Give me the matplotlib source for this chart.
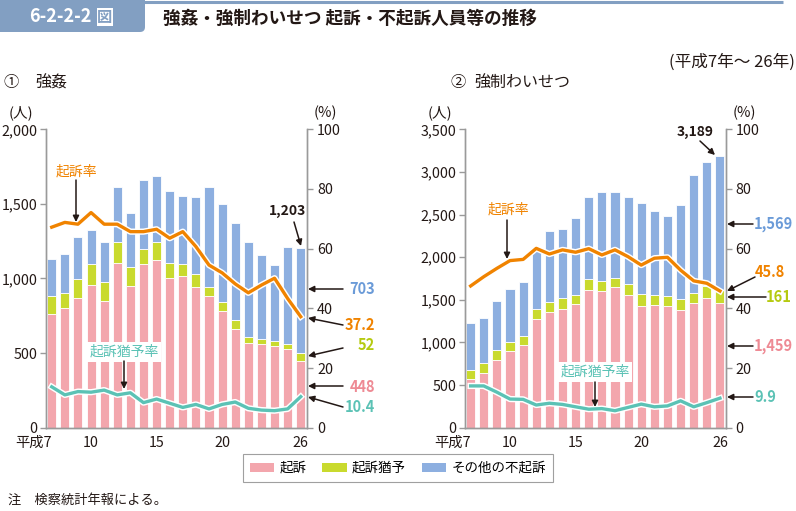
import numpy as np
import matplotlib.pyplot as plt
import matplotlib.patheffects as pe
import matplotlib.transforms as mtransforms
from matplotlib.patches import FancyBboxPatch, Patch
from matplotlib.ticker import FuncFormatter

plt.rcParams['font.family'] = ['Noto Sans CJK JP', 'DejaVu Sans']

W, H = 796, 511

# data (平成7年～26年)
years = list(range(7, 27))
xtick_pos = [0, 3, 8, 13, 19]
xtick_labels = ['平成7', '10', '15', '20', '26']

# ① 強姦
rape_kiso = [760, 800, 872, 957, 851, 1106, 948, 1095, 1126, 1005, 1019, 945, 883, 784, 659, 566, 559, 548, 525, 448]
rape_yuyo = [123, 105, 127, 138, 125, 141, 131, 101, 121, 97, 76, 83, 58, 61, 63, 40, 33, 35, 36, 52]
rape_other = [247, 257, 281, 232, 269, 368, 362, 462, 442, 487, 456, 518, 672, 656, 648, 641, 568, 507, 652, 703]
rape_kiso_rate = [67.2, 68.8, 68.2, 72.1, 68.2, 68.2, 65.7, 65.7, 66.5, 63.5, 65.7, 60.7, 54.5, 51.9, 48.2, 45.2, 47.8, 50.1, 43.3, 37.2]
rape_yuyo_rate = [13.7, 11.0, 12.1, 11.9, 12.6, 11.0, 11.7, 8.4, 9.6, 8.2, 6.8, 7.8, 6.3, 7.8, 8.6, 6.5, 5.9, 5.7, 6.3, 10.4]

# ② 強制わいせつ
ind_kiso = [575, 645, 794, 903, 966, 1279, 1357, 1389, 1447, 1615, 1607, 1647, 1557, 1431, 1439, 1427, 1380, 1459, 1518, 1459]
ind_yuyo = [102, 110, 114, 102, 110, 110, 121, 129, 110, 126, 114, 112, 125, 134, 118, 118, 130, 117, 144, 161]
ind_other = [547, 528, 578, 618, 637, 695, 833, 812, 899, 961, 1047, 1009, 1028, 1067, 985, 942, 1102, 1388, 1458, 1569]
ind_kiso_rate = [47.5, 50.6, 53.4, 56.0, 56.4, 60.1, 58.2, 59.6, 58.8, 60.0, 57.9, 59.6, 57.3, 54.5, 56.8, 57.1, 52.8, 49.2, 48.4, 45.8]
ind_yuyo_rate = [14.0, 14.0, 11.9, 9.6, 9.5, 7.6, 8.2, 7.8, 7.0, 6.2, 6.4, 5.7, 6.8, 7.9, 7.0, 7.3, 9.0, 7.0, 8.4, 9.9]

# colours
PINK, GREEN, BLUE = '#F3A6AD', '#C9DA2E', '#8DAFE0'
ORANGE, TEAL = '#F08300', '#5BC2B5'
PINK_T, GREEN_T, BLUE_T = '#EE8A94', '#B5CA10', '#6B9BD8'
TAB = '#829FC2'
SPINE = '#9a9a9a'
INK = '#231815'
TICK_FS = 10.3

fig = plt.figure(figsize=(W / 100, H / 100), dpi=100)


def px_axes(x0, y0, x1, y1):
    return fig.add_axes([x0 / W, 1 - y1 / H, (x1 - x0) / W, (y1 - y0) / H])


def panel(ax, kiso, yuyo, other, krate, yrate, ymax, xlim):
    x = np.arange(len(years))
    kiso = np.array(kiso)
    yuyo = np.array(yuyo)
    other = np.array(other)
    bw = 0.69
    ax.bar(x, kiso, width=bw, color=PINK, edgecolor='white', linewidth=0.6)
    ax.bar(x, yuyo, bottom=kiso, width=bw, color=GREEN, edgecolor='white', linewidth=0.6)
    ax.bar(x, other, bottom=kiso + yuyo, width=bw, color=BLUE, edgecolor='white', linewidth=0.6)
    ax.set_ylim(0, ymax)
    ax.set_xlim(*xlim)
    ax.set_yticks(np.arange(0, ymax + 1, 500))
    ax.yaxis.set_major_formatter(FuncFormatter(lambda v, p: f'{int(v):,}'))
    ax.set_xticks(xtick_pos)
    ax.set_xticklabels(xtick_labels)
    lab0 = ax.get_xticklabels()[0]
    lab0.set_ha('right')
    lab0.set_transform(lab0.get_transform() + mtransforms.ScaledTranslation(3 / 100, 0, fig.dpi_scale_trans))
    ax.tick_params(axis='y', length=4, width=1, color=SPINE, pad=2, labelsize=TICK_FS, labelcolor=INK)
    ax.tick_params(axis='x', length=0, pad=6, labelsize=TICK_FS, labelcolor=INK)
    ax.patch.set_visible(False)

    ax2 = ax.twinx()
    ax2.set_ylim(0, 100)
    ax2.set_yticks(range(0, 101, 20))
    ax2.tick_params(axis='y', length=4, width=1, color=SPINE, pad=3, labelsize=TICK_FS, labelcolor=INK)
    stroke = [pe.Stroke(linewidth=4.5, foreground='white'), pe.Normal()]
    ax2.plot(x, krate, color=ORANGE, lw=2.4, path_effects=stroke, solid_joinstyle='round')
    ax2.plot(x, yrate, color=TEAL, lw=2.4, path_effects=stroke, solid_joinstyle='round')
    for a in (ax, ax2):
        a.spines['top'].set_visible(False)
        for s in ('left', 'right', 'bottom'):
            a.spines[s].set_color(SPINE)
            a.spines[s].set_linewidth(1)


axL = px_axes(45.7, 129.3, 307.3, 427.7)
panel(axL, rape_kiso, rape_yuyo, rape_other, rape_kiso_rate, rape_yuyo_rate, 2000, (-0.46, 19.5))
axR = px_axes(465, 129.3, 726, 427.7)
panel(axR, ind_kiso, ind_yuyo, ind_other, ind_kiso_rate, ind_yuyo_rate, 3500, (-0.43, 19.46))

# legend
handles = [Patch(facecolor=PINK), Patch(facecolor=GREEN), Patch(facecolor=BLUE)]
leg = fig.legend(handles, ['起訴', '起訴猶予', 'その他の不起訴'], loc='center',
                 bbox_to_anchor=(398 / W, 1 - 468 / H), ncol=3, fontsize=9.7,
                 handlelength=1.8, handleheight=0.7, columnspacing=1.2, handletextpad=0.4,
                 borderpad=0.5, borderaxespad=0, fancybox=False, edgecolor='#888888')
leg.get_frame().set_linewidth(0.8)

# overlay in pixel coordinates for header and annotations
ov = fig.add_axes([0, 0, 1, 1])
ov.set_xlim(0, W)
ov.set_ylim(H, 0)
ov.axis('off')

ov.add_patch(FancyBboxPatch((-8, -6), 153, 38, boxstyle='round,pad=0,rounding_size=5',
                            facecolor=TAB, edgecolor='none'))
ov.plot([0, 783], [2.5, 2.5], color=TAB, lw=2.2, solid_capstyle='butt')
ov.text(29, 17, '6-2-2-2', color='white', fontsize=13, fontweight='bold', va='center', ha='left')
ov.text(105, 17, '図', color=TAB, fontsize=11, fontweight='bold', va='center', ha='center',
        bbox=dict(boxstyle='square,pad=0.05', facecolor='white', edgecolor='none'))
ov.text(163, 19, '強姦・強制わいせつ 起訴・不起訴人員等の推移', color=INK, fontsize=12.7,
        fontweight='bold', va='center', ha='left')
ov.text(795, 62, '(平成7年～ 26年)', color=INK, fontsize=12, va='center', ha='right')

ov.text(3, 83, '①', color=INK, fontsize=11, va='center', ha='left')
ov.text(35, 83, '強姦', color=INK, fontsize=11.5, va='center', ha='left')
ov.text(450, 83, '②', color=INK, fontsize=11, va='center', ha='left')
ov.text(474, 83, '強制わいせつ', color=INK, fontsize=11.5, va='center', ha='left')

for xx, s in [(21, '(人)'), (325, '(%)'), (440, '(人)'), (744, '(%)')]:
    ov.text(xx, 113, s, color=INK, fontsize=10.5, va='center', ha='center')

ov.text(8, 500, '注　検察統計年報による。', color=INK, fontsize=9.5, va='center', ha='left')

arrow = dict(arrowstyle='-|>', color=INK, lw=1.1, mutation_scale=9, shrinkA=0, shrinkB=0)


def arr(x0, y0, x1, y1):
    ov.annotate('', xy=(x1, y1), xytext=(x0, y0), arrowprops=arrow)


VAL_FS = 10.5

# left panel labels
ov.text(76, 171.7, '起訴率', color=ORANGE, fontsize=10, ha='center', va='center')
arr(76, 180, 76, 222)
ov.text(124, 352, '起訴猶予率', color=TEAL, fontsize=10, ha='center', va='center',
        bbox=dict(boxstyle='square,pad=0.2', facecolor='white', edgecolor='none'))
arr(124, 361, 124, 389)
ov.text(288, 211, '1,203', color=INK, fontsize=10, fontweight='bold', ha='center', va='center')
arr(294, 222, 301, 246)
for txt, col, ty, y0, y1 in [('703', BLUE_T, 289, 289, 289),
                             ('37.2', ORANGE, 325, 325, 318),
                             ('52', GREEN_T, 345, 348, 356),
                             ('448', PINK_T, 387, 386, 386),
                             ('10.4', TEAL, 407, 407, 397)]:
    ov.text(375, ty, txt, color=col, fontsize=VAL_FS, fontweight='bold', ha='right', va='center')
    arr(343, y0, 308, y1)

# right panel labels
ov.text(508, 210, '起訴率', color=ORANGE, fontsize=10, ha='center', va='center')
arr(507, 220, 507, 259)
ov.text(595, 372, '起訴猶予率', color=TEAL, fontsize=10, ha='center', va='center',
        bbox=dict(boxstyle='square,pad=0.2', facecolor='white', edgecolor='none'))
arr(595, 382, 595, 407)
ov.text(695, 132, '3,189', color=INK, fontsize=10, fontweight='bold', ha='center', va='center')
arr(700, 141, 715, 155)
for txt, col, tx, ty, x0, y0, y1 in [('1,569', BLUE_T, 754, 224, 753, 224, 224),
                                     ('45.8', ORANGE, 755, 272, 755, 277, 291),
                                     ('161', GREEN_T, 766, 297, 766, 297, 297),
                                     ('1,459', PINK_T, 754, 346, 753, 346, 346),
                                     ('9.9', TEAL, 754, 397, 753, 397, 397)]:
    ov.text(tx, ty, txt, color=col, fontsize=VAL_FS, fontweight='bold', ha='left', va='center')
    arr(x0, y0, 727, y1)

fig.savefig('out.png', dpi=100)
